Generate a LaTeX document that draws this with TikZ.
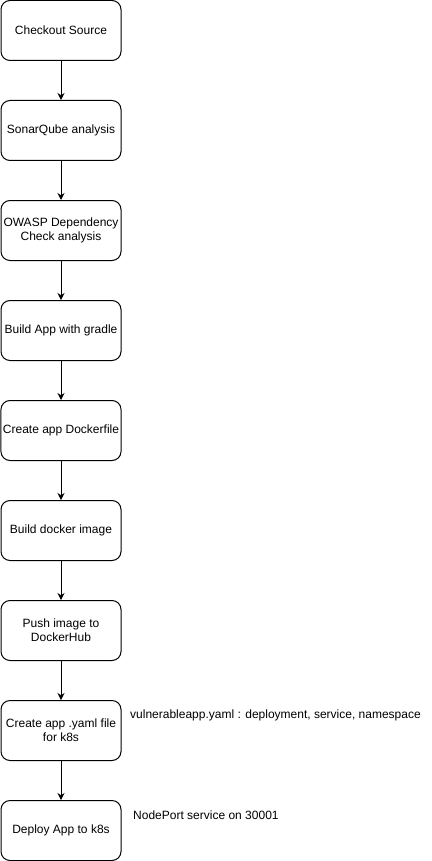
\documentclass[tikz,border=0pt]{standalone}
\usepackage{fontspec}
\setmainfont{Liberation Sans}
\usetikzlibrary{arrows.meta}
\begin{document}
\begin{tikzpicture}[
        x=1pt, y=-1pt,
        stage/.style={rectangle, rounded corners=9pt, draw=black, line width=1pt, fill=white,
            minimum width=120pt, minimum height=60pt, align=center, inner sep=2pt,
            font=\fontsize{12}{14}\selectfont},
        flow/.style={line width=1pt, black, -{Stealth[length=7pt, width=7pt]}},
        note/.style={anchor=west, inner sep=0pt, font=\fontsize{12}{14}\selectfont},
    ]

        \useasboundingbox (0, 0) rectangle (431, 861);

        \foreach \i/\txt in {1/{Checkout Source}, 2/{SonarQube analysis},
                3/{OWASP Dependency\\Check analysis}, 4/{Build App with gradle},
                5/{Create app Dockerfile}, 6/{Build docker image},
                7/{Push image to\\DockerHub}, 8/{Create app .yaml file\\for k8s},
                9/{Deploy App to k8s}} {
            \node[stage] (s\i) at (61, {30.5+100*(\i-1)}) {\txt};
        }

        \foreach \i [evaluate=\i as \j using int(\i+1)] in {1,...,8} {
            \draw[flow] (s\i) -- (s\j);
        }

        \node[note] (yamlnote) at (130, 715) {vulnerableapp.yaml : deployment, service, namespace};
        \node[note] (portnote) at (133, 815) {NodePort service on 30001};
    \end{tikzpicture}
\end{document}
